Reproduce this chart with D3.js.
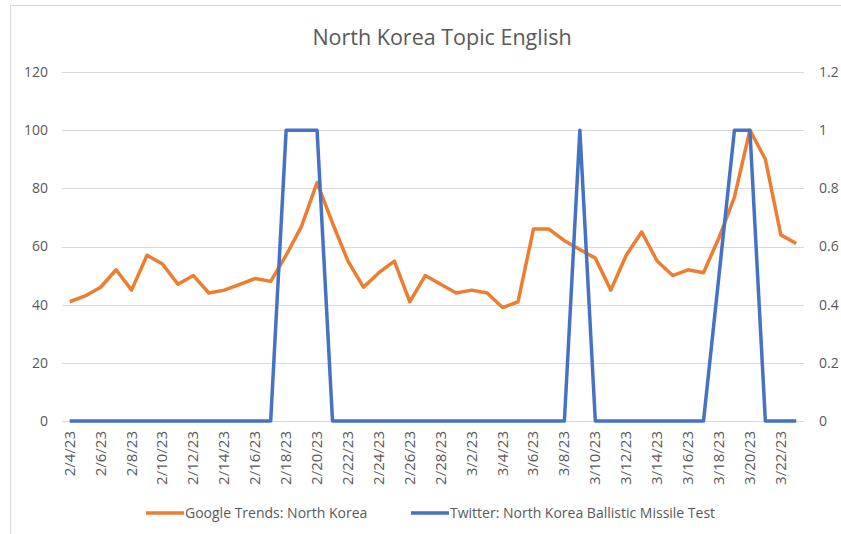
<!DOCTYPE html>
<html>
<head>
<meta charset="utf-8">
<script src="https://cdn.jsdelivr.net/npm/d3@7"></script>
<style>
  body { margin: 0; background: #fff; }
  text { font-family: "Open Sans", "Noto Sans", sans-serif; fill: #595959; }
</style>
</head>
<body>
<svg id="chart" width="841" height="534"></svg>
<script>
var dates = ["2/4/23","2/5/23","2/6/23","2/7/23","2/8/23","2/9/23","2/10/23","2/11/23","2/12/23","2/13/23",
             "2/14/23","2/15/23","2/16/23","2/17/23","2/18/23","2/19/23","2/20/23","2/21/23","2/22/23","2/23/23",
             "2/24/23","2/25/23","2/26/23","2/27/23","2/28/23","3/1/23","3/2/23","3/3/23","3/4/23","3/5/23",
             "3/6/23","3/7/23","3/8/23","3/9/23","3/10/23","3/11/23","3/12/23","3/13/23","3/14/23","3/15/23",
             "3/16/23","3/17/23","3/18/23","3/19/23","3/20/23","3/21/23","3/22/23","3/23/23"];

var google = [41,43,46,52,45,57,54,47,50,44,
              45,47,49,48,57,67,82,68,55,46,
              51,55,41,50,47,44,45,44,39,41,
              66,66,62,59,56,45,57,65,55,50,
              52,51,63,77,100,90,64,61];

var twitter = [0,0,0,0,0,0,0,0,0,0,
               0,0,0,0,1,1,1,0,0,0,
               0,0,0,0,0,0,0,0,0,0,
               0,0,0,1,0,0,0,0,0,0,
               0,0,0.5,1,1,0,0,0];

var leftTicks = [0,20,40,60,80,100,120];
var rightTicks = [0,0.2,0.4,0.6,0.8,1,1.2];
var seriesNames = ["Google Trends: North Korea", "Twitter: North Korea Ballistic Missile Test"];
var colors = ["#ED7D31", "#4472C4"];

var svg = d3.select("#chart");

// chart area border
svg.append("path")
    .attr("d", "M10.5,540 V5.5 H850")
    .attr("fill", "none")
    .attr("stroke", "#d9d9d9")
    .attr("stroke-width", 1);

var plot = {left: 62, right: 804, top: 72, bottom: 421};

var x = d3.scalePoint().domain(dates).range([plot.left, plot.right]).padding(0.5);
var yL = d3.scaleLinear().domain([0, 120]).range([plot.bottom, plot.top]);
var yR = d3.scaleLinear().domain([0, 1.2]).range([plot.bottom, plot.top]);

// title
svg.append("text")
    .attr("x", 442).attr("y", 45)
    .attr("text-anchor", "middle")
    .style("font-size", "21.5px")
    .text("North Korea Topic English");

// gridlines
svg.append("g").selectAll("line")
    .data(leftTicks)
    .enter().append("line")
    .attr("x1", plot.left).attr("x2", plot.right)
    .attr("y1", function(d){ return Math.round(yL(d)) + 0.5; })
    .attr("y2", function(d){ return Math.round(yL(d)) + 0.5; })
    .attr("stroke", "#d9d9d9")
    .attr("stroke-width", 1);

// left axis
var gl = svg.append("g")
    .attr("transform", "translate(" + (plot.left - 14) + ",0)")
    .call(d3.axisLeft(yL).tickValues(leftTicks).tickSize(0).tickPadding(0));
gl.select(".domain").remove();
gl.selectAll("text").style("font-size", "14px").attr("fill", "#595959");

// right axis
var gr = svg.append("g")
    .attr("transform", "translate(" + (plot.right + 15) + ",0)")
    .call(d3.axisRight(yR).tickValues(rightTicks).tickSize(0).tickPadding(0)
          .tickFormat(function(d){ return d3.format("")(+d.toFixed(1)); }));
gr.select(".domain").remove();
gr.selectAll("text").style("font-size", "14px").attr("fill", "#595959");

// x labels, every other day
svg.append("g").selectAll("text")
    .data(dates.filter(function(d, i){ return i % 2 == 0; }))
    .enter().append("text")
    .attr("transform", function(d){ return "translate(" + (x(d) + 5) + ",431) rotate(-90)"; })
    .attr("text-anchor", "end")
    .style("font-size", "15px")
    .text(function(d){ return d; });

// lines
var lineL = d3.line()
    .x(function(d, i){ return x(dates[i]); })
    .y(function(d){ return yL(d); });
var lineR = d3.line()
    .x(function(d, i){ return x(dates[i]); })
    .y(function(d){ return yR(d); });

svg.append("path")
    .datum(google)
    .attr("d", lineL)
    .attr("fill", "none")
    .attr("stroke", colors[0])
    .attr("stroke-width", 3.5)
    .attr("stroke-linejoin", "round");

svg.append("path")
    .datum(twitter)
    .attr("d", lineR)
    .attr("fill", "none")
    .attr("stroke", colors[1])
    .attr("stroke-width", 3.5)
    .attr("stroke-linejoin", "round");

// legend
var legendX = [146, 411];
var leg = svg.append("g").selectAll("g")
    .data(seriesNames)
    .enter().append("g")
    .attr("transform", function(d, i){ return "translate(" + legendX[i] + ",513)"; });
leg.append("line")
    .attr("x1", 0).attr("x2", 38)
    .attr("stroke", function(d, i){ return colors[i]; })
    .attr("stroke-width", 3.5);
leg.append("text")
    .attr("x", 39).attr("y", 5)
    .style("font-size", "14px")
    .text(function(d){ return d; });
</script>
</body>
</html>
